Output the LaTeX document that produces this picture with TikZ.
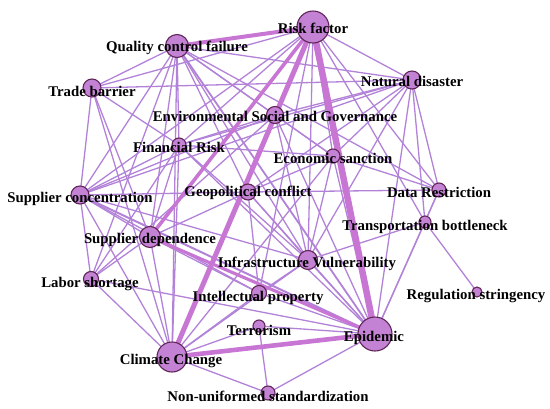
\documentclass[tikz,border=0pt]{standalone}
\usepackage{fontspec}
\setmainfont{Liberation Serif}
\usepackage{tikz}

\definecolor{edgecol}{RGB}{178,130,216}
\definecolor{heavycol}{RGB}{200,118,212}
\definecolor{nodefill}{RGB}{196,130,212}
\definecolor{nodeline}{RGB}{96,38,88}

\begin{document}
\begin{tikzpicture}[line cap=round,line join=round,x=1pt,y=-1pt,
  link/.style={color=edgecol,line width=1.3pt},
  heavy/.style={color=heavycol},
  vert/.style={circle,draw=nodeline,fill=nodefill,line width=1.1pt,inner sep=0pt},
  lab/.style={font=\fontsize{14.8}{16}\selectfont\bfseries,text=black,inner sep=0pt}]
\useasboundingbox (0,0) rectangle (550,408);

\coordinate (rf) at (313,27);
\coordinate (qcf) at (177,46);
\coordinate (tb) at (92,88);
\coordinate (nd) at (412,80);
\coordinate (esg) at (275,115);
\coordinate (fr) at (179,145);
\coordinate (es) at (333,156);
\coordinate (gc) at (248,192);
\coordinate (dr) at (439,190);
\coordinate (sc) at (80,195);
\coordinate (trb) at (425,222);
\coordinate (sd) at (150,237);
\coordinate (iv) at (308,260);
\coordinate (ls) at (91,279);
\coordinate (ip) at (259,293);
\coordinate (rs) at (477,292);
\coordinate (ter) at (259,326);
\coordinate (ep) at (375,334);
\coordinate (cc) at (172,357);
\coordinate (nus) at (268,393);

% thin links
\draw [link] (rf)-- (tb);
\draw [link] (rf)-- (nd);
\draw [link] (rf)-- (esg);
\draw [link] (rf)-- (es);
\draw [link] (rf)-- (dr);
\draw [link] (rf)-- (trb);
\draw [link] (rf)-- (iv);
\draw [link] (rf)-- (fr);
\draw [link] (rf)-- (sc);
\draw [link] (rf)-- (ip);
\draw [link] (qcf)-- (tb);
\draw [link] (qcf)-- (nd);
\draw [link] (qcf)-- (fr);
\draw [link] (qcf)-- (sc);
\draw [link] (qcf)-- (esg);
\draw [link] (qcf)-- (sd);
\draw [link] (qcf)-- (cc);
\draw [link] (qcf)-- (gc);
\draw [link] (qcf)-- (es);
\draw [link] (qcf)-- (iv);
\draw [link] (qcf)-- (dr);
\draw [link] (qcf)-- (ls);
\draw [link] (tb)-- (nd);
\draw [link] (tb)-- (fr);
\draw [link] (tb)-- (sd);
\draw [link] (tb)-- (cc);
\draw [link] (tb)-- (sc);
\draw [link] (nd)-- (esg);
\draw [link] (nd)-- (es);
\draw [link] (nd)-- (gc);
\draw [link] (nd)-- (dr);
\draw [link] (nd)-- (trb);
\draw [link] (nd)-- (ep);
\draw [link] (nd)-- (iv);
\draw [link] (nd)-- (fr);
\draw [link] (nd)-- (sc);
\draw [link] (esg)-- (fr);
\draw [link] (esg)-- (es);
\draw [link] (esg)-- (sc);
\draw [link] (esg)-- (ls);
\draw [link] (esg)-- (iv);
\draw [link] (esg)-- (ep);
\draw [link] (fr)-- (sc);
\draw [link] (fr)-- (es);
\draw [link] (fr)-- (sd);
\draw [link] (fr)-- (cc);
\draw [link] (fr)-- (ls);
\draw [link] (fr)-- (iv);
\draw [link] (fr)-- (ep);
\draw [link] (es)-- (gc);
\draw [link] (es)-- (dr);
\draw [link] (es)-- (iv);
\draw [link] (es)-- (cc);
\draw [link] (es)-- (ep);
\draw [link] (gc)-- (dr);
\draw [link] (gc)-- (sd);
\draw [link] (gc)-- (iv);
\draw [link] (gc)-- (ip);
\draw [link] (gc)-- (ep);
\draw [link] (gc)-- (sc);
\draw [link] (sc)-- (sd);
\draw [link] (sc)-- (ls);
\draw [link] (sc)-- (cc);
\draw [link] (sc)-- (ip);
\draw [link] (sc)-- (iv);
\draw [link] (sd)-- (ls);
\draw [link] (sd)-- (cc);
\draw [link] (sd)-- (ip);
\draw [link] (iv)-- (ip);
\draw [link] (iv)-- (ep);
\draw [link] (iv)-- (cc);
\draw [link] (iv)-- (trb);
\draw [link] (ls)-- (cc);
\draw [link] (ls)-- (ep);
\draw [link] (ip)-- (cc);
\draw [link] (ip)-- (ep);
\draw [link] (ter)-- (cc);
\draw [link] (ter)-- (ep);
\draw [link] (ter)-- (nus);
\draw [link] (cc)-- (nus);
\draw [link] (ep)-- (nus);
\draw [link] (ep)-- (trb);
\draw [link] (ep)-- (dr);
\draw [link] (trb)-- (rs);
\draw [link] (trb)-- (dr);

% heavy links
\draw [link,line width=1.8pt] (qcf)-- (ep);
\draw [link,line width=2pt] (sc)-- (ep);
\draw [link,heavy,line width=3.2pt] (sd)-- (ep);
\draw [link,heavy,line width=3.6pt] (rf)-- (sd);
\draw [link,heavy,line width=4pt] (rf)-- (qcf);
\draw [link,heavy,line width=4.6pt] (cc)-- (ep);
\draw [link,heavy,line width=5pt] (rf)-- (cc);
\draw [link,heavy,line width=6.5pt] (rf)-- (ep);

% vertices
\node [vert,minimum size=32pt] (rfdot) at (rf) {};
\node [vert,minimum size=23pt] (qcfdot) at (qcf) {};
\node [vert,minimum size=18pt] (tbdot) at (tb) {};
\node [vert,minimum size=18pt] (nddot) at (nd) {};
\node [vert,minimum size=17pt] (esgdot) at (esg) {};
\node [vert,minimum size=14pt] (frdot) at (fr) {};
\node [vert,minimum size=14pt] (esdot) at (es) {};
\node [vert,minimum size=16pt] (gcdot) at (gc) {};
\node [vert,minimum size=14pt] (drdot) at (dr) {};
\node [vert,minimum size=18pt] (scdot) at (sc) {};
\node [vert,minimum size=12pt] (trbdot) at (trb) {};
\node [vert,minimum size=21pt] (sddot) at (sd) {};
\node [vert,minimum size=19pt] (ivdot) at (iv) {};
\node [vert,minimum size=15pt] (lsdot) at (ls) {};
\node [vert,minimum size=15pt] (ipdot) at (ip) {};
\node [vert,minimum size=10pt] (rsdot) at (rs) {};
\node [vert,minimum size=12pt] (terdot) at (ter) {};
\node [vert,minimum size=34pt] (epdot) at (ep) {};
\node [vert,minimum size=30pt] (ccdot) at (cc) {};
\node [vert,minimum size=14pt] (nusdot) at (nus) {};

% labels
\node [lab] (rflab) at (313,28) {Risk factor};
\node [lab] (qcflab) at (177,48) {Quality control failure};
\node [lab] (tblab) at (92,91) {Trade barrier};
\node [lab] (ndlab) at (412,81) {Natural disaster};
\node [lab] (esglab) at (275,116) {Environmental Social and Governance};
\node [lab] (frlab) at (179,147) {Financial Risk};
\node [lab] (eslab) at (333,158) {Economic sanction};
\node [lab] (gclab) at (248,193) {Geopolitical conflict};
\node [lab] (drlab) at (439,192) {Data Restriction};
\node [lab] (sclab) at (80,199) {Supplier concentration};
\node [lab] (trblab) at (425,227) {Transportation bottleneck};
\node [lab] (sdlab) at (150,240) {Supplier dependence};
\node [lab] (ivlab) at (307,264) {Infrastructure Vulnerability};
\node [lab] (lslab) at (90,284) {Labor shortage};
\node [lab] (iplab) at (258,298) {Intellectual property};
\node [lab] (rslab) at (476,296) {Regulation stringency};
\node [lab] (terlab) at (259,330) {Terrorism};
\node [lab] (eplab) at (374,338) {Epidemic};
\node [lab] (cclab) at (171,361) {Climate Change};
\node [lab] (nuslab) at (268,396) {Non-uniformed standardization};
\end{tikzpicture}
\end{document}
